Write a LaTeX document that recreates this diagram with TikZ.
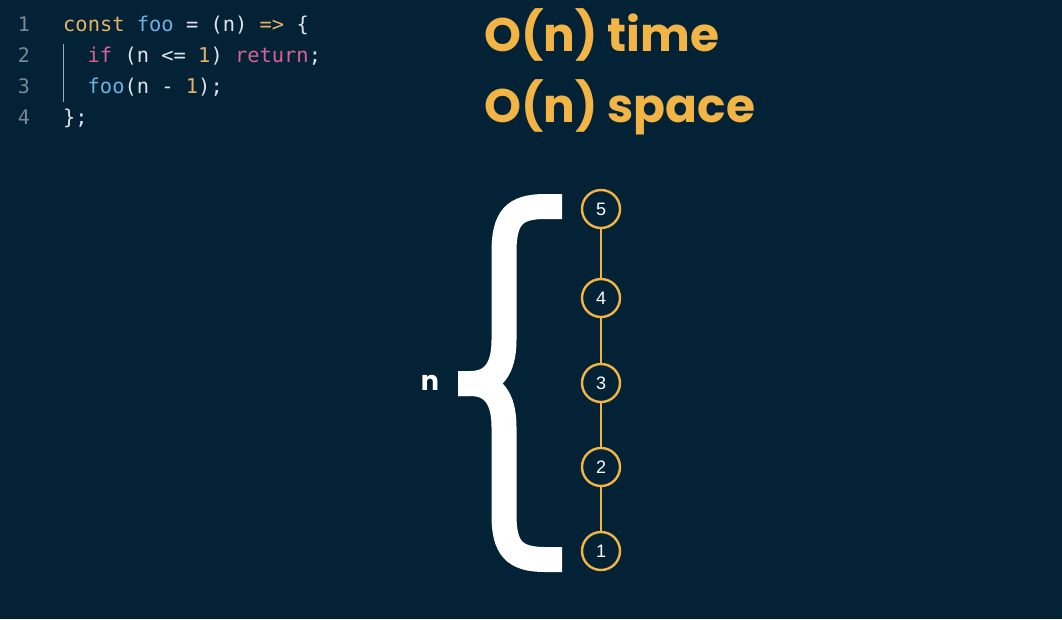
\documentclass[tikz,border=0pt]{standalone}
\usepackage{fontspec}
\setmainfont{Poppins}
\setmonofont{DejaVu Sans Mono}
\newfontfamily\digitfont{Liberation Sans}
\usetikzlibrary{positioning}

\definecolor{bg}{RGB}{3,34,53}
\definecolor{gold}{RGB}{242,180,68}
\definecolor{kwpink}{RGB}{214,98,150}
\definecolor{fnblue}{RGB}{108,178,228}
\definecolor{numtan}{RGB}{230,178,104}
\definecolor{codefg}{RGB}{222,228,234}
\definecolor{lnogray}{RGB}{120,136,150}

\tikzset{
  lineno/.style={anchor=base,text=lnogray,font=\ttfamily\fontsize{20}{20}\selectfont},
  codeline/.style={anchor=base west,text=codefg,font=\ttfamily\fontsize{20.4}{20}\selectfont,inner sep=0pt},
  bigo/.style={anchor=base west,text=gold,font=\bfseries\fontsize{47}{47}\selectfont,inner sep=0pt},
  frame/.style={circle,draw=gold,line width=2.4pt,fill=bg,minimum size=38pt,inner sep=0pt,
    text=white,font=\digitfont\fontsize{18}{18}\selectfont},
  stack/.style={draw=gold,line width=2pt},
  brace/.style={draw=white,line width=25pt,line cap=butt},
}
\newcommand{\kw}[1]{\textcolor{kwpink}{#1}}
\newcommand{\fn}[1]{\textcolor{fnblue}{#1}}
\newcommand{\nm}[1]{\textcolor{numtan}{#1}}

\begin{document}
\begin{tikzpicture}[x=1pt,y=-1pt]
  \fill[bg] (0,0) rectangle (1062,619);
  \useasboundingbox (0,0) rectangle (1062,619);

  % source listing
  \foreach \i/\y in {1/31,2/62,3/93,4/124}
    \node[lineno] (ln\i) at (24,\y) {\i};
  \node[codeline] (code1) at (63,31) {\nm{const} \fn{foo} = (n) \nm{=>} \{};
  \node[codeline] (code2) at (87.5,62) {\kw{if} (n <= \nm{1}) \kw{return};};
  \node[codeline] (code3) at (87.5,93) {\fn{foo}(n - \nm{1});};
  \node[codeline] (code4) at (63,124) {\};};
  \draw[lnogray!70,line width=0.8pt] (63,44) -- (63,102);

  % complexity
  \node[bigo] (otime) at (484,51) {O(n) time};
  \node[bigo] (ospace) at (484,122) {O(n) space};

  % call stack
  \foreach \i/\y in {5/209,4/298,3/383,2/467,1/551}
    \node[frame] (f\i) at (601,\y) {\i};
  \foreach \a/\b in {5/4,4/3,3/2,2/1}
    \draw[stack] (f\a) -- (f\b);

  % brace over the frames
  \draw[brace] (562,206.5) -- (545,206.5) .. controls (514,206.5) and (504,218) .. (504,252)
    -- (504,340) .. controls (504,370) and (492,383.5) .. (470,383.5) -- (458,383.5);
  \draw[brace] (562,559.5) -- (545,559.5) .. controls (514,559.5) and (504,548) .. (504,515)
    -- (504,427) .. controls (504,397) and (492,383.5) .. (470,383.5) -- (458,383.5);
  \node[text=white,font=\bfseries\fontsize{27}{27}\selectfont,inner sep=0pt] (nlabel) at (430,383) {n};
\end{tikzpicture}
\end{document}
